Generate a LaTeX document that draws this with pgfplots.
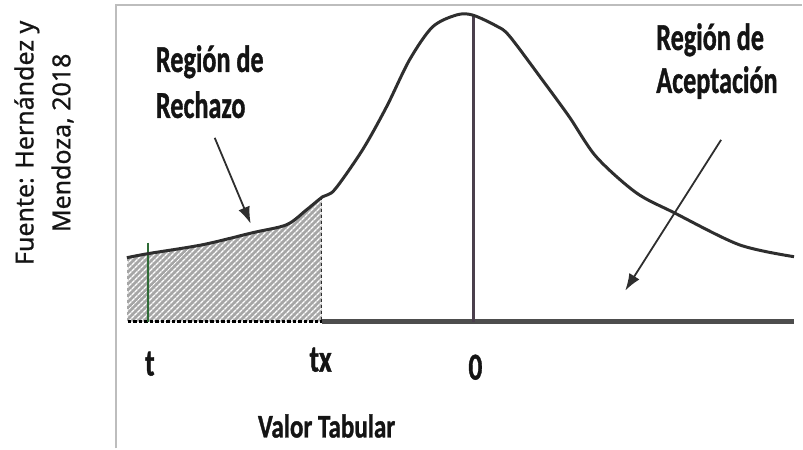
\documentclass[border=0pt]{standalone}
\usepackage{pgfplots}
\pgfplotsset{compat=1.18}
\usepackage{fontspec}
\setmainfont{Noto Sans}[FakeBold=0.7]
\newfontfamily\carlitob{Carlito Bold}[FakeBold=1.2]
\usetikzlibrary{arrows.meta,patterns.meta}

\definecolor{curvecol}{HTML}{2E2E2E}
\definecolor{framecol}{HTML}{BDBDBD}
\definecolor{txtcol}{HTML}{141414}
\definecolor{greenline}{HTML}{2E6B35}
\definecolor{zerocol}{HTML}{4A3F4C}

\tikzset{
    lbl/.style={font=\carlitob\fontsize{38}{44}\selectfont, text=txtcol, xscale=0.69, inner sep=0pt},
    lblb/.style={font=\carlitob\fontsize{33}{38}\selectfont, text=txtcol, xscale=0.76, inner sep=0pt},
}

\begin{document}
\begin{tikzpicture}
\begin{axis}[
    width=803pt, height=449pt, scale only axis,
    xmin=0, xmax=803, ymin=0, ymax=449,
    y dir=reverse,
    hide axis, clip=false,
]
% page extent
\addplot[draw=none] coordinates {(0,0) (803,449)};

% frame (left and top edge of the original figure)
\addplot[framecol, line width=2pt] coordinates {(116,449) (116,5) (803,5)};

% rejection region, shaded and hatched
\addplot[fill=gray!70, draw=none] coordinates {
    (128,322) (128,258) (148,254) (203,245) (253,233) (287,225)
    (307,210) (322,197) (322,322)} -- cycle;
\addplot[draw=none, pattern={Lines[angle=45, distance=4pt, line width=1.4pt]}, pattern color=white] coordinates {
    (128,322) (128,258) (148,254) (203,245) (253,233) (287,225)
    (307,210) (322,197) (322,322)} -- cycle;
\addplot[gray!70, dashed, line width=0.8pt] coordinates {(128,258) (128,322)};
\addplot[curvecol, dashed, line width=1.6pt] coordinates {(322,197) (322,322)};

% baseline
\addplot[black, dotted, line width=3.5pt] coordinates {(128,322) (322,322)};
\addplot[curvecol!85, line width=4.5pt] coordinates {(322,322) (795,322)};

% t and 0 lines
\addplot[greenline, line width=1.8pt] coordinates {(148,243) (148,322)};
\addplot[zerocol, line width=3.2pt] coordinates {(474,15) (474,322)};

% curve
\addplot[curvecol, line width=3pt, smooth, tension=0.5] coordinates {
    (127,258) (148,254) (203,245) (253,233) (287,225) (307,210) (323,197)
    (335,190) (363,150) (387,107) (410,60) (433,27) (457,15) (473,15)
    (497,26) (510,36) (543,80) (570,117) (597,157) (637,193) (675,213)
    (740,245) (795,257)};

% arrows
\addplot[curvecol, line width=1.8pt, -{Latex[length=17pt, width=12pt]}] coordinates {(215,138) (251,224)};
\addplot[curvecol, line width=1.8pt, -{Latex[length=17pt, width=12pt]}] coordinates {(722,140) (626,291)};

% labels
\node[lbl, anchor=base west] at (axis cs:156,72) {Región de};
\node[lbl, anchor=base west] at (axis cs:156,118) {Rechazo};
\node[lbl, anchor=base west] at (axis cs:657,50) {Región de};
\node[lbl, anchor=base west] at (axis cs:657,93) {Aceptación};
\node[lbl, anchor=base, xscale=1.05] at (axis cs:150,376) {t};
\node[lbl, anchor=base, xscale=1.05] at (axis cs:321,372) {tx};
\node[lbl, anchor=base, xscale=1.05] at (axis cs:476,380) {0};
\node[lblb, anchor=base] at (axis cs:327,438) {Valor Tabular};

% source note
\node[rotate=90, align=center, font=\fontsize{25}{37}\selectfont, text=txtcol, inner sep=0pt]
    at (axis cs:44,143) {Fuente: Hernández y\\Mendoza, 2018};
\end{axis}
\end{tikzpicture}
\end{document}
